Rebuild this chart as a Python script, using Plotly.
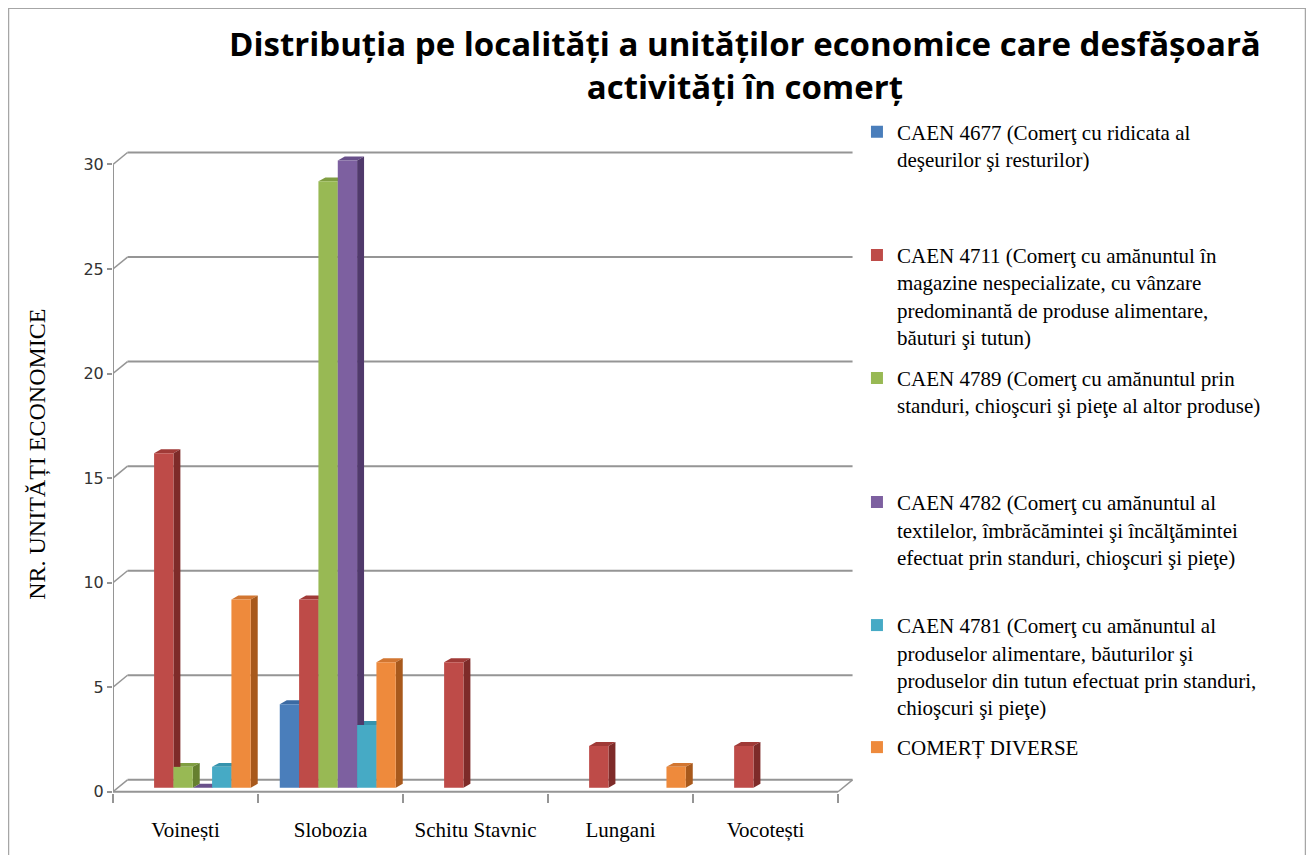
import plotly.graph_objects as go

# ---------------- data ----------------
localitati = ["Voinești", "Slobozia", "Schitu Stavnic", "Lungani", "Vocotești"]

serii = [
    "CAEN 4677 (Comerţ cu ridicata al<br>deşeurilor şi resturilor)",
    "CAEN 4711 (Comerţ cu amănuntul în<br>magazine nespecializate, cu vânzare<br>predominantă de produse alimentare,<br>băuturi şi tutun)",
    "CAEN 4789 (Comerţ cu amănuntul prin<br>standuri, chioşcuri şi pieţe al altor produse)",
    "CAEN 4782 (Comerţ cu amănuntul al<br>textilelor, îmbrăcămintei şi încălţămintei<br>efectuat prin standuri, chioşcuri şi pieţe)",
    "CAEN 4781 (Comerţ cu amănuntul al<br>produselor alimentare, băuturilor şi<br>produselor din tutun efectuat prin standuri,<br>chioşcuri şi pieţe)",
    "COMERȚ DIVERSE",
]

caen_4677 = [None, 4, None, None, None]
caen_4711 = [16, 9, 6, 2, 2]
caen_4789 = [1, 29, None, None, None]
caen_4782 = [0, 30, None, None, None]
caen_4781 = [1, 3, None, None, None]
comert_diverse = [9, 6, None, 1, None]

valori = [caen_4677, caen_4711, caen_4789, caen_4782, caen_4781, comert_diverse]

y_ticks = [0, 5, 10, 15, 20, 25, 30]

titlu = "Distribuția pe localități a unităților economice care desfășoară<br>activități în comerț"
titlu_y = "NR. UNITĂȚI ECONOMICE"

# ---------------- style ----------------
front_colors = ["#4A7EBB", "#BE4B48", "#98B954", "#7D60A0", "#46AAC5", "#EE8A3C"]
side_colors = ["#2E5687", "#7E2B29", "#66802F", "#50396B", "#2A7A90", "#A8591C"]
top_colors = ["#3B6AA3", "#A03A37", "#809E42", "#68508A", "#3593AD", "#D27631"]

SLOT = 0.8 / 6
DX = 0.048   # depth offset (x units)
DY = 0.19    # depth offset (y units)
DXF, DYF = 0.05, 0.19   # front plane offset
DXB, DYB = 0.05, 0.38   # back wall offset
GRID = "#959595"

fig = go.Figure()
legend_names = ["legend", "legend2", "legend3", "legend4", "legend5", "legend6"]

tops, sides = [], []
for j, (name, vals) in enumerate(zip(serii, valori)):
    xs = [i + (j - 2.5) * SLOT for i in range(len(localitati))]
    fig.add_trace(go.Bar(
        x=xs, y=vals, width=SLOT, name=name,
        marker=dict(color=front_colors[j], line=dict(width=0)),
        legend=legend_names[j], hoverinfo="y",
    ))
    for c, v in zip(xs, vals):
        if v is None:
            continue
        l, r = c - SLOT / 2, c + SLOT / 2
        tops.append(dict(type="path", xref="x", yref="y", layer="between",
                         path=f"M{l},{v} L{r},{v} L{r+DX},{v+DY} L{l+DX},{v+DY} Z",
                         fillcolor=top_colors[j], line=dict(width=0)))
        if v > 0:
            sides.append(dict(type="path", xref="x", yref="y", layer="between",
                              path=f"M{r},0 L{r+DX},{DY} L{r+DX},{v+DY} L{r},{v} Z",
                              fillcolor=side_colors[j], line=dict(width=0)))

n = len(localitati)
x_left_front = -0.5 - DXF
x_right_front = n - 0.5 - DXF
x_left_back = -0.5 + DXB
x_right_back = n - 0.5 + DXB

frame = []
for t in y_ticks:
    frame.append(dict(type="line", xref="x", yref="y", layer="below",
                      x0=x_left_back, x1=x_right_back, y0=t + DYB, y1=t + DYB,
                      line=dict(color=GRID, width=2)))
    frame.append(dict(type="line", xref="x", yref="y", layer="below",
                      x0=x_left_front, x1=x_left_back, y0=t - DYF, y1=t + DYB,
                      line=dict(color=GRID, width=1.5)))
frame.append(dict(type="line", xref="x", yref="y", layer="below",
                  x0=x_left_front, x1=x_left_front, y0=-DYF, y1=y_ticks[-1] - DYF,
                  line=dict(color=GRID, width=2)))
frame.append(dict(type="line", xref="x", yref="y", layer="below",
                  x0=x_left_front, x1=x_right_front, y0=-DYF, y1=-DYF,
                  line=dict(color=GRID, width=2)))
frame.append(dict(type="line", xref="x", yref="y", layer="below",
                  x0=x_right_front, x1=x_right_back, y0=-DYF, y1=DYB,
                  line=dict(color=GRID, width=1.5)))
# outer chart frame
frame.append(dict(type="rect", xref="paper", yref="paper",
                  x0=-0.1417, x1=1.6100, y0=-0.2, y1=1.2214,
                  line=dict(color="#a6a6a6", width=2.5), fillcolor="rgba(0,0,0,0)"))

legend_y = [1.0596, 0.8682, 0.6768, 0.4839, 0.2925, 0.1027]
legend_common = dict(x=1.004, xanchor="left", yanchor="top", valign="top",
                     bgcolor="rgba(0,0,0,0)", borderwidth=0,
                     font=dict(family="Liberation Serif", size=21, color="#000"),
                     itemclick=False, itemdoubleclick=False)
legends = {ln: dict(legend_common, y=ly) for ln, ly in zip(legend_names, legend_y)}

fig.update_layout(
    width=1298, height=847,
    paper_bgcolor="white", plot_bgcolor="white",
    margin=dict(l=105, r=452, t=142, b=62),
    barmode="overlay",
    showlegend=True,
    xaxis=dict(
        range=[-0.55, 4.56], showgrid=False, zeroline=False, showline=False,
        tickvals=[i - DXF for i in range(n)], ticktext=localitati, ticks="",
        tickfont=dict(family="Liberation Serif", size=21, color="#000"),
        ticklabelstandoff=22,
        minor=dict(tickvals=[k - 0.5 - DXF for k in range(n + 1)], ticks="outside",
                   ticklen=9, tickcolor=GRID, tickwidth=1.5),
        fixedrange=True,
    ),
    yaxis=dict(
        range=[-0.25, 30.5], showgrid=False, zeroline=False, showline=False,
        tickvals=[t - DYF for t in y_ticks], ticktext=[str(t) for t in y_ticks],
        ticks="outside", ticklen=5, tickcolor=GRID, tickwidth=1.5,
        tickfont=dict(family="DejaVu Sans", size=16, color="#333"),
        fixedrange=True,
    ),
    annotations=[
        dict(text=titlu, xref="paper", yref="paper", x=0.853, y=1.204,
             xanchor="center", yanchor="top", showarrow=False, align="center",
             font=dict(family="Open Sans", size=33, color="#000", weight="bold")),
        dict(text=titlu_y, xref="paper", yref="paper", x=-0.103, y=0.527,
             xanchor="center", yanchor="middle", showarrow=False, textangle=-90,
             font=dict(family="Liberation Serif", size=24, color="#000")),
    ],
    shapes=frame + tops + sides,
    **legends,
)

fig.write_html("out.html")
